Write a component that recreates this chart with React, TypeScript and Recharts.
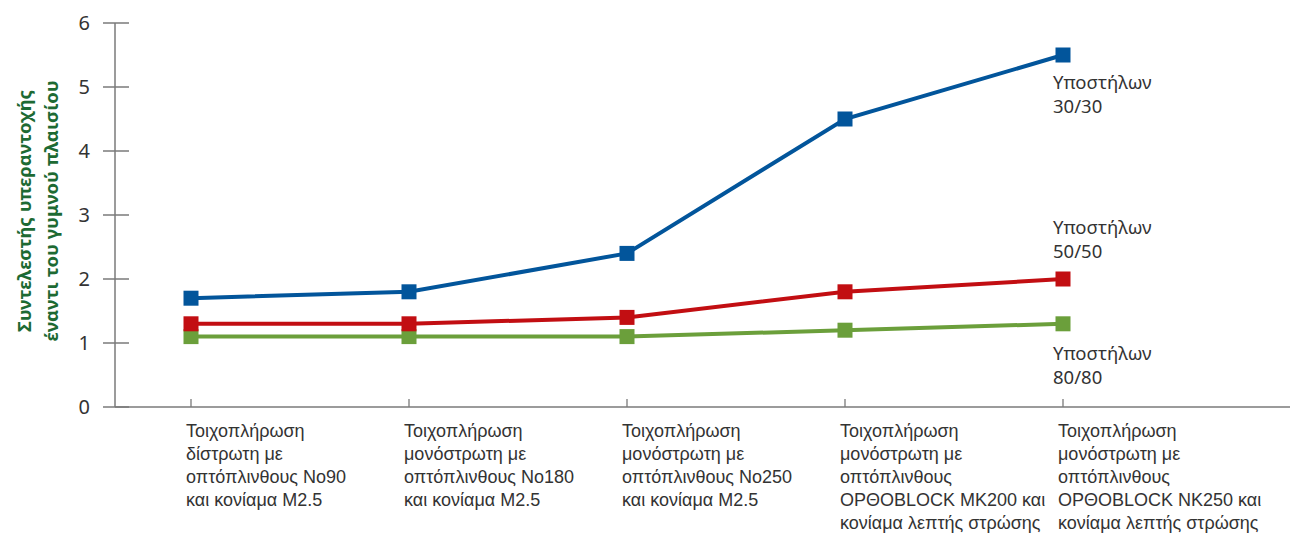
import { LineChart, Line, XAxis, YAxis, LabelList } from "recharts";

// category labels, one entry per line of the wrapped tick text
const categories: string[][] = [
  ["Τοιχοπλήρωση", "δίστρωτη με", "οπτόπλινθους No90", "και κονίαμα M2.5"],
  ["Τοιχοπλήρωση", "μονόστρωτη με", "οπτόπλινθους No180", "και κονίαμα M2.5"],
  ["Τοιχοπλήρωση", "μονόστρωτη με", "οπτόπλινθους No250", "και κονίαμα M2.5"],
  ["Τοιχοπλήρωση", "μονόστρωτη με", "οπτόπλινθους", "ΟΡΘΟBLOCK MK200 και", "κονίαμα λεπτής στρώσης"],
  ["Τοιχοπλήρωση", "μονόστρωτη με", "οπτόπλινθους", "ΟΡΘΟBLOCK NK250 και", "κονίαμα λεπτής στρώσης"],
];

const col30: number[] = [1.7, 1.8, 2.4, 4.5, 5.5];
const col50: number[] = [1.3, 1.3, 1.4, 1.8, 2.0];
const col80: number[] = [1.1, 1.1, 1.1, 1.2, 1.3];

const label30 = ["Υποστήλων", "30/30"];
const label50 = ["Υποστήλων", "50/50"];
const label80 = ["Υποστήλων", "80/80"];

const yTicks: number[] = [0, 1, 2, 3, 4, 5, 6];
const yTitle = ["Συντελεστής υπεραντοχής", "έναντι του γυμνού πλαισίου"];

const data = categories.map((_, i) => ({
  name: String(i),
  c30: col30[i],
  c50: col50[i],
  c80: col80[i],
}));

const AXIS = "#7a7a7a";
const TEXT = "#333333";
const GEO = "'Noto Sans', sans-serif";
const NARROW = "'Liberation Sans Narrow', 'Arial Narrow', 'Liberation Sans', sans-serif";

const XTick = (props: any) => {
  const { x, y, payload } = props;
  const lines = categories[Number(payload.value)] || [];
  return (
    <g>
      <line x1={x} x2={x} y1={y - 8} y2={y} stroke={AXIS} strokeWidth={1.3} />
      <text x={x - 5} y={y + 30} fill={TEXT} fontSize={18} fontFamily={NARROW}>
        {lines.map((l, i) => (
          <tspan key={i} x={x - 5} dy={i === 0 ? 0 : 23}>
            {l}
          </tspan>
        ))}
      </text>
    </g>
  );
};

const YTick = (props: any) => {
  const { x, y, payload } = props;
  return (
    <g>
      <line x1={x + 13} x2={x + 39} y1={y} y2={y} stroke={AXIS} strokeWidth={1.5} />
      <text x={x} y={y + 7} textAnchor="end" fill={TEXT} fontSize={20} fontFamily={GEO}>
        {payload.value}
      </text>
    </g>
  );
};

const YTitle = (props: any) => {
  const { viewBox } = props;
  const cx = viewBox.x + 38;
  const cy = viewBox.y + viewBox.height / 2 - 4;
  return (
    <text
      transform={`rotate(-90, ${cx}, ${cy})`}
      x={cx}
      y={cy}
      textAnchor="middle"
      fill="#1d6a33"
      fontSize={18.5}
      fontWeight="bold"
      fontFamily={GEO}
    >
      <tspan x={cx} dy={-7}>{yTitle[0]}</tspan>
      <tspan x={cx} dy={27}>{yTitle[1]}</tspan>
    </text>
  );
};

const SquareDot = (color: string) => (props: any) => {
  const { cx, cy, index } = props;
  return <rect key={index} x={cx - 7.5} y={cy - 7.5} width={15} height={15} fill={color} />;
};

// end-of-line series name, two separate lines
const EndLabel = (lines: string[], dy: number) => (props: any) => {
  const { x, y, index } = props;
  if (index !== categories.length - 1) return null;
  return (
    <g>
      {lines.map((l, i) => (
        <text key={i} x={x - 10} y={y + dy + i * 24} fill={TEXT} fontSize={18.5} fontFamily={GEO}>
          {l}
        </text>
      ))}
    </g>
  );
};

export default function App() {
  return (
    <div style={{ position: "absolute", left: 0, top: 0, background: "#fff" }}>
      <LineChart width={1290} height={533} data={data} margin={{ top: 23, right: 0, bottom: 0, left: 0 }}>
        <XAxis
          dataKey="name"
          height={126}
          padding={{ left: 76, right: 227 }}
          axisLine={{ stroke: AXIS, strokeWidth: 1.5 }}
          tickLine={false}
          tickSize={0}
          tickMargin={0}
          interval={0}
          tick={<XTick />}
        />
        <YAxis
          width={115}
          domain={[0, 6]}
          ticks={yTicks}
          interval={0}
          axisLine={{ stroke: AXIS, strokeWidth: 1.5 }}
          tickLine={false}
          tickSize={0}
          tickMargin={25}
          tick={<YTick />}
          label={{ content: <YTitle /> }}
        />
        <Line dataKey="c80" stroke="#6b9f3b" strokeWidth={4} dot={SquareDot("#6b9f3b")} isAnimationActive={false}>
          <LabelList dataKey="c80" content={EndLabel(label80, 36)} />
        </Line>
        <Line dataKey="c50" stroke="#c20e12" strokeWidth={4} dot={SquareDot("#c20e12")} isAnimationActive={false}>
          <LabelList dataKey="c50" content={EndLabel(label50, -45)} />
        </Line>
        <Line dataKey="c30" stroke="#02559b" strokeWidth={4} dot={SquareDot("#02559b")} isAnimationActive={false}>
          <LabelList dataKey="c30" content={EndLabel(label30, 34)} />
        </Line>
      </LineChart>
    </div>
  );
}
